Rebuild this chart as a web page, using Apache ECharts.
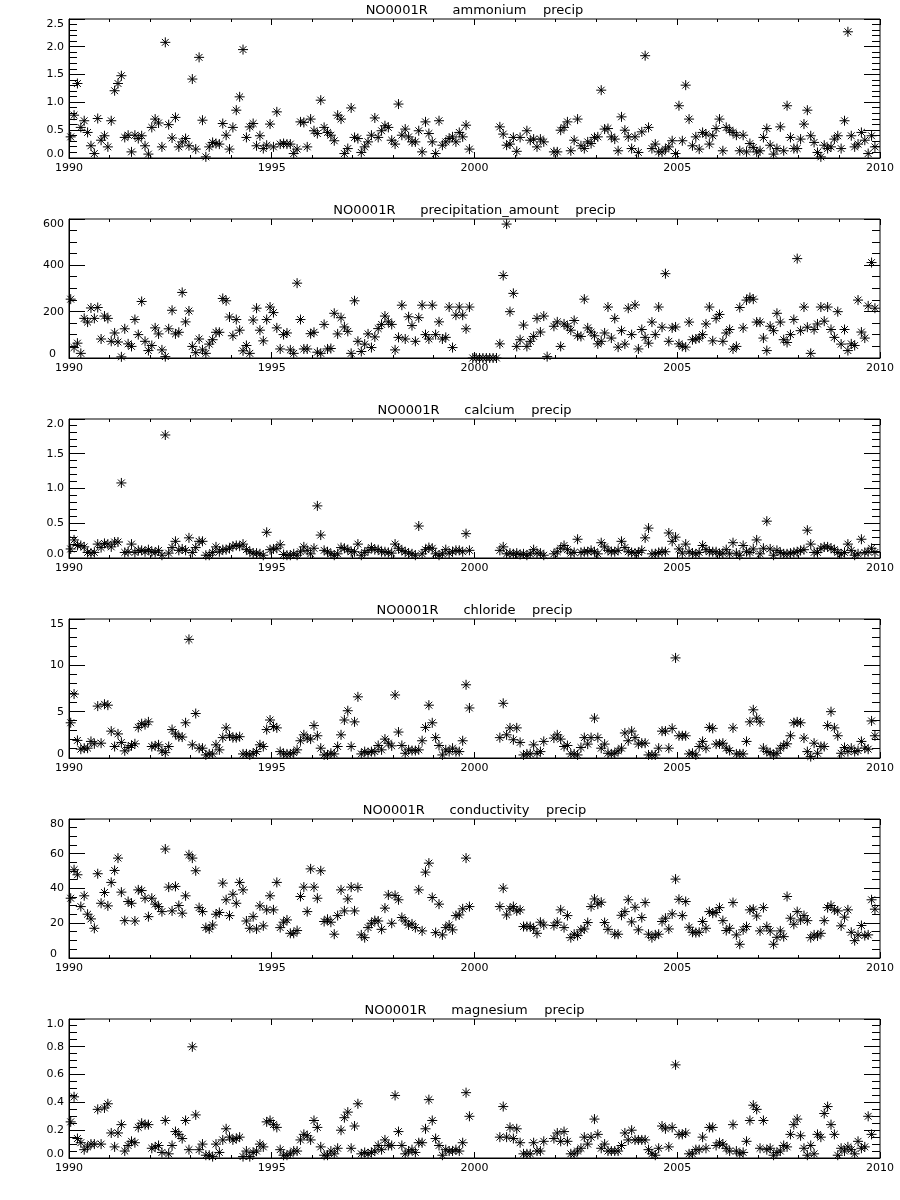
<!DOCTYPE html>
<html><head><meta charset="utf-8">
<script src="https://cdn.jsdelivr.net/npm/echarts@6/dist/echarts.min.js"></script>
<style>html,body{margin:0;padding:0;background:#fff}#c{width:900px;height:1200px}</style>
</head><body><div id="c"></div>
<script>
// ---------------- data ----------------
const station = 'NO0001R';
const variables = ['ammonium', 'precipitation_amount', 'calcium', 'chloride', 'conductivity', 'magnesium'];
const xTickYears = [1990, 1995, 2000, 2005, 2010];
// monthly samples Jan 1990 .. Dec 2009 (array index = months since Jan 1990)
const sampleMonths = Array.from({length: 240}, (_, j) => 1990 + (j + 0.5) / 12);

const ammonium = [0.38,0.77,1.34,0.55,0.67,0.46,0.22,0.08,0.71,0.32,0.40,0.20,0.67,1.21,1.34,1.48,0.37,0.41,0.11,0.41,0.35,0.40,0.22,0.07,0.55,0.70,0.63,0.20,2.08,0.60,0.36,0.73,0.20,0.29,0.35,0.22,1.42,0.16,1.81,0.68,0.02,0.20,0.28,0.26,0.25,0.62,0.41,0.16,0.55,0.86,1.10,1.95,0.37,0.56,0.62,0.22,0.40,0.17,0.23,0.61,0.20,0.83,0.25,0.26,0.25,0.25,0.08,0.16,0.65,0.64,0.20,0.70,0.49,0.44,1.04,0.55,0.46,0.41,0.31,0.77,0.70,0.08,0.17,0.90,0.37,0.35,0.10,0.20,0.29,0.41,0.72,0.37,0.49,0.58,0.55,0.32,0.25,0.97,0.41,0.52,0.38,0.29,0.29,0.49,0.11,0.65,0.44,0.29,0.08,0.67,0.23,0.29,0.35,0.38,0.29,0.46,0.38,0.59,0.16,null,null,null,null,null,null,null,null,0.56,0.43,0.23,0.25,0.37,0.12,0.37,null,0.49,0.32,0.34,0.20,0.34,0.29,null,null,0.11,0.11,0.50,0.55,0.65,0.13,0.32,0.70,0.22,0.17,0.29,0.26,0.37,0.38,1.22,0.52,0.53,0.38,0.34,0.13,0.74,0.50,0.38,0.17,0.38,0.10,0.47,1.84,0.55,0.17,0.25,0.11,0.11,0.16,0.20,0.31,0.08,0.94,0.31,1.31,0.70,0.22,0.38,0.16,0.46,0.43,0.25,0.40,0.53,0.70,0.13,0.55,0.50,0.46,0.41,0.13,0.41,0.11,0.26,0.19,0.11,0.13,0.37,0.53,0.23,0.07,0.17,0.56,0.13,0.94,0.37,0.17,0.17,0.34,0.61,0.86,0.40,0.28,0.10,0.02,0.23,0.17,0.20,0.34,0.40,0.17,0.67,2.27,0.40,0.20,0.25,0.46,0.32,0.08,0.40,0.20,null];
const precipitation = [254,45,64,20,171,155,216,171,218,82,181,171,72,108,69,5,126,61,50,166,101,244,72,32,54,130,104,35,6,126,206,104,111,283,156,203,50,23,82,35,20,60,79,111,111,257,247,177,96,166,120,31,54,20,164,215,120,74,166,220,196,130,39,101,108,35,20,323,166,39,39,105,111,25,20,145,39,41,193,104,174,134,115,20,247,72,28,60,104,45,91,127,145,181,156,145,35,89,228,82,178,140,72,174,228,101,82,228,101,156,82,89,220,45,185,220,185,126,220,0,0,0,0,0,0,0,0,61,356,578,200,279,50,79,142,50,72,93,171,112,181,6,null,137,156,50,147,137,120,162,96,93,254,130,112,96,61,72,108,220,86,171,47,118,60,215,101,229,39,123,89,64,155,101,220,133,364,72,130,134,61,50,47,155,79,82,86,101,147,220,74,171,188,72,108,123,39,50,218,130,250,261,254,155,155,86,32,137,118,193,155,79,67,101,166,429,118,220,133,20,123,147,220,159,220,123,89,200,60,123,32,61,54,250,112,86,225,412,215,null];
const calcium = [0.13,0.26,0.18,0.18,0.16,0.08,0.07,0.08,0.20,0.15,0.21,0.20,0.16,0.23,0.23,1.08,0.08,0.09,0.20,0.08,0.11,0.11,0.09,0.12,0.09,0.08,0.11,0.04,1.77,0.07,0.15,0.24,0.11,0.13,0.11,0.29,0.08,0.15,0.24,0.24,0.04,0.04,0.08,0.16,0.09,0.12,0.12,0.14,0.17,0.18,0.17,0.20,0.12,0.09,0.07,0.07,0.06,0.04,0.37,0.12,0.13,0.14,0.19,0.05,0.04,0.04,0.06,0.04,0.09,0.16,0.11,0.06,0.14,0.75,0.33,0.11,0.09,0.06,0.04,0.06,0.15,0.14,0.12,0.09,0.09,0.20,0.04,0.08,0.11,0.15,0.12,0.12,0.09,0.09,0.08,0.07,0.20,0.14,0.11,0.09,0.07,0.06,0.04,0.46,0.06,0.12,0.15,0.14,0.06,0.04,0.06,0.12,0.07,0.09,0.11,0.11,0.09,0.35,0.11,null,null,null,null,null,null,null,null,0.11,0.16,0.06,0.07,0.06,0.07,0.05,0.06,0.04,0.06,0.12,0.07,0.07,0.04,null,null,0.06,0.09,0.14,0.18,0.12,0.07,0.08,0.27,0.08,0.09,0.09,0.11,0.09,0.06,0.22,0.16,0.11,0.09,0.09,0.11,0.24,0.15,0.09,0.08,0.07,0.08,0.11,0.29,0.43,0.06,0.06,0.08,0.09,0.09,0.36,0.24,0.30,0.13,0.07,0.20,0.09,0.07,0.06,0.08,0.18,0.12,0.09,0.09,0.09,0.06,0.07,0.12,0.06,0.22,0.07,0.04,0.18,0.09,0.08,0.13,0.26,0.06,0.14,0.53,0.13,0.04,0.11,0.08,0.06,0.06,0.07,0.08,0.09,0.11,0.12,0.40,0.20,0.08,0.08,0.14,0.16,0.16,0.14,0.12,0.08,0.06,0.08,0.20,0.11,0.04,0.06,0.27,0.08,0.09,0.14,0.08,null];
const chloride = [3.8,6.9,1.9,0.95,1.06,1.06,1.79,1.53,5.6,1.6,5.8,5.7,2.9,1.24,2.6,1.68,0.77,1.13,1.35,1.53,3.3,3.7,3.6,3.9,1.24,1.31,1.42,0.77,0.58,1.24,3.07,2.6,2.3,2.26,3.8,12.8,1.42,4.8,1.06,1.06,0.33,0.44,0.44,1.42,0.88,2.2,3.25,2.4,2.2,2.2,2.3,0.44,0.44,0.33,0.51,0.69,1.42,1.24,3.07,4.1,3.4,3.25,0.69,0.44,0.44,0.44,0.58,0.88,1.86,2.5,2.15,2.04,3.5,2.4,1.06,0.33,0.33,0.51,0.44,1.24,2.5,4.1,5.1,1.24,3.9,6.6,0.44,0.69,0.58,0.69,0.69,1.35,0.88,2.04,1.6,1.31,6.8,2.8,1.35,0.51,0.88,0.8,0.8,0.88,1.86,3.3,5.7,3.8,2.2,1.35,0.33,0.88,0.69,1.06,0.69,0.69,1.86,7.9,5.4,null,null,null,null,null,null,null,null,2.2,5.9,2.5,3.25,1.97,3.25,1.68,0.33,0.44,0.44,1.42,0.51,0.69,1.79,null,null,2.15,2.5,2.04,1.24,1.35,0.44,0.44,0.33,1.13,2.2,1.5,2.2,4.3,2.2,1.06,1.5,0.51,0.44,0.51,0.77,1.06,2.7,1.86,2.9,2.2,1.5,1.6,1.6,0.33,0.33,0.33,1.06,2.9,2.9,1.06,3.2,10.8,2.4,2.4,2.4,0.44,0.51,0.33,1.24,1.79,1.06,3.3,3.2,1.5,1.53,1.6,1.06,0.8,3.25,0.44,0.44,0.44,1.79,3.9,5.2,4.3,3.9,1.06,0.69,0.58,0.33,0.51,1.06,1.35,1.53,2.4,3.8,3.9,3.8,2.15,0.69,0.15,1.6,0.51,1.24,1.24,3.5,5.0,3.25,2.4,0.51,1.13,0.69,1.06,0.69,0.8,1.79,1.06,0.95,4.0,2.4,null];
const conductivity = [34.4,50.8,47.9,29.6,35.8,25.2,22.5,17.1,48.5,31.5,37.7,30.0,43.5,50.4,57.5,37.9,21.5,32.5,31.5,21.3,39.2,38.8,34.4,23.8,34.4,31.0,29.6,26.7,62.7,40.8,27.1,41.2,30.2,25.8,35.8,59.4,57.5,50.2,29.0,26.7,17.5,16.7,19.0,25.2,26.2,43.1,33.5,24.4,36.7,31.5,43.5,39.2,21.3,17.1,23.8,16.7,30.0,18.5,27.7,35.8,27.7,43.5,17.5,20.6,21.9,14.2,14.2,15.8,35.4,40.8,26.7,51.3,40.8,34.4,50.2,21.0,22.3,20.6,13.7,24.4,39.2,27.1,34.0,40.8,27.1,40.6,13.3,11.7,17.5,20.0,21.5,21.3,16.5,28.7,36.3,20.0,36.0,33.5,23.3,21.3,19.0,19.6,17.5,39.2,15.6,49.4,54.6,34.8,14.6,31.0,13.3,17.5,19.0,16.2,24.4,24.8,28.3,57.5,29.6,null,null,null,null,null,null,null,null,29.6,40.2,24.8,28.3,29.6,27.1,27.7,18.1,18.1,18.1,17.1,14.2,20.6,19.0,null,null,18.7,20.6,27.7,17.5,24.4,11.7,13.7,12.9,16.2,16.7,20.4,29.6,34.0,31.0,32.1,20.4,16.5,null,13.7,13.7,24.6,26.7,33.5,20.8,29.2,16.2,23.3,31.9,13.7,11.7,13.3,13.7,21.0,22.9,16.7,25.4,45.4,33.8,24.4,32.5,17.7,14.8,14.6,14.8,21.0,17.1,26.7,25.8,26.2,29.0,21.5,15.8,17.1,31.9,13.3,7.9,16.2,18.1,27.7,28.1,24.2,15.6,29.0,18.1,15.6,7.9,11.9,15.6,12.3,35.4,22.9,19.4,26.7,21.9,24.4,21.5,11.7,13.3,12.7,14.2,21.5,29.0,30.2,27.7,27.1,18.5,23.5,27.7,14.8,10.0,13.3,18.7,12.9,13.3,33.5,28.1,null];
const magnesium = [0.26,0.44,0.14,0.11,0.06,0.08,0.10,0.10,0.35,0.10,0.36,0.39,0.18,0.08,0.18,0.24,0.05,0.09,0.12,0.11,0.22,0.25,0.24,0.24,0.07,0.08,0.09,0.04,0.27,0.03,0.09,0.19,0.17,0.14,0.27,0.06,0.80,0.31,0.06,0.10,0.02,0.02,0.01,0.10,0.04,0.13,0.21,0.15,0.13,0.14,0.15,0.01,0.05,0.01,0.04,0.05,0.10,0.08,0.26,0.27,0.24,0.22,0.06,0.02,0.02,0.03,0.05,0.05,0.13,0.17,0.16,0.13,0.27,0.22,0.08,0.02,0.02,0.05,0.03,0.07,0.20,0.29,0.33,0.07,0.23,0.39,0.03,0.04,0.03,0.04,0.05,0.09,0.06,0.13,0.09,0.09,0.45,0.19,0.09,0.03,0.05,0.06,0.04,0.11,0.11,0.21,0.42,0.27,0.14,0.09,0.02,0.06,0.05,0.05,0.06,0.05,0.11,0.47,0.30,null,null,null,null,null,null,null,null,0.15,0.37,0.15,0.22,0.14,0.21,0.11,0.03,0.03,0.03,0.11,0.05,0.05,0.12,null,null,0.14,0.18,0.12,0.19,0.12,0.03,0.03,0.05,0.07,0.15,0.10,0.15,0.28,0.17,0.07,0.10,0.05,0.05,0.05,0.05,0.09,0.18,0.13,0.20,0.13,0.13,0.13,0.13,0.06,0.03,0.02,0.07,0.23,0.21,0.08,0.22,0.67,0.17,0.17,0.18,0.03,0.03,0.06,0.06,0.15,0.07,0.22,0.22,0.09,0.11,0.10,0.07,0.05,0.24,0.05,0.03,0.04,0.12,0.27,0.38,0.35,0.07,0.27,0.06,0.07,0.02,0.04,0.05,0.09,0.08,0.17,0.24,0.28,0.16,0.07,0.02,0.09,0.03,0.17,0.15,0.32,0.37,0.24,0.17,0.02,0.07,0.05,0.08,0.06,0.03,0.12,0.07,0.08,0.30,0.17,null,null];

const panelValues = [ammonium, precipitation, calcium, chloride, conductivity, magnesium];
const yMaxima = [2.5, 600, 2.0, 15, 80, 1.0];
const yIntervals = [0.5, 200, 0.5, 5, 20, 0.2];
const yMinorSplits = [5, 4, 5, 5, 4, 4];
const yDecimals = [1, 0, 1, 0, 0, 1];
const xMinorSplit = 5;

// ---------------- layout / style ----------------
const FONT = 'DejaVu Sans';
const GRID_LEFT = 69, GRID_W = 811, GRID_TOP0 = 19, GRID_H = 139, GRID_STEP = 200;
const Y_MAJOR_LEN = 16, Y_MINOR_LEN = 8, X_MAJOR_LEN = 6, X_MINOR_LEN = 3;
const zeroLabelShift = [0, 8, 0, 0, 7, 0];
const STAR = 'path://M0,5L10,5M5,0L5,10M1.6,1.6L8.4,8.4M8.4,1.6L1.6,8.4';
const ls = () => ({color: '#000', width: 1});

const chart = echarts.init(document.getElementById('c'), null, {renderer: 'canvas'});
const grids = [], xAxes = [], yAxes = [], series = [], titles = [];

// Inward frame ticks on all four sides, positioned through the grid's own axes (api.coord)
function frameTickSeries(i, xMin, xMax, yMax) {
  const data = [];
  // y ticks: [xMin, value, length, 0]
  const yStep = yIntervals[i] / yMinorSplits[i];
  const nY = Math.round(yMax / yStep);
  for (let k = 0; k <= nY; k++) data.push([xMin, k * yStep, k % yMinorSplits[i] === 0 ? Y_MAJOR_LEN : Y_MINOR_LEN, 0]);
  // x ticks: [value, 0, length, 1]
  const xStep = (xTickYears[1] - xTickYears[0]) / xMinorSplit;
  const nX = Math.round((xMax - xMin) / xStep);
  for (let k = 0; k <= nX; k++) data.push([xMin + k * xStep, 0, k % xMinorSplit === 0 ? X_MAJOR_LEN : X_MINOR_LEN, 1]);
  return {
    type: 'custom', xAxisIndex: i, yAxisIndex: i, data: data, silent: true, clip: false, z: 3,
    renderItem: (params, api) => {
      const v0 = api.value(0), v1 = api.value(1), len = api.value(2), kind = api.value(3);
      const segs = [];
      if (kind === 0) {
        const pl = api.coord([xMin, v1]), pr = api.coord([xMax, v1]);
        const y = Math.round(pl[1] - 0.5) + 0.5;
        segs.push({x1: pl[0], y1: y, x2: pl[0] + len, y2: y});
        segs.push({x1: pr[0], y1: y, x2: pr[0] - len, y2: y});
      } else {
        const pb = api.coord([v0, 0]), pt = api.coord([v0, yMax]);
        const x = Math.round(pb[0] - 0.5) + 0.5;
        segs.push({x1: x, y1: pb[1], x2: x, y2: pb[1] - len});
        segs.push({x1: x, y1: pt[1], x2: x, y2: pt[1] + len});
      }
      return {type: 'group', children: segs.map(s => ({type: 'line', shape: s, style: {stroke: '#000', lineWidth: 1}}))};
    }
  };
}

variables.forEach((name, i) => {
  const top = GRID_TOP0 + i * GRID_STEP;
  const xMin = xTickYears[0], xMax = xTickYears[xTickYears.length - 1];
  grids.push({left: GRID_LEFT, top: top, width: GRID_W, height: GRID_H,
    show: true, borderColor: '#000', borderWidth: 1, backgroundColor: 'transparent'});
  titles.push({
    text: station + '      ' + name + '    precip',
    left: GRID_LEFT + GRID_W / 2, top: top - 15, textAlign: 'center', padding: 0,
    textStyle: {fontFamily: FONT, fontSize: 13, fontWeight: 'normal', color: '#000'}
  });
  xAxes.push({
    gridIndex: i, type: 'value', min: xMin, max: xMax, interval: 5, position: 'bottom',
    axisLine: {show: true, onZero: false, lineStyle: ls()}, axisTick: {show: false}, splitLine: {show: false},
    axisLabel: {show: true, color: '#000', fontFamily: FONT, fontSize: 11, margin: 5, formatter: v => String(v)}
  });
  const yMax = yMaxima[i], dec = yDecimals[i];
  yAxes.push({
    gridIndex: i, type: 'value', min: 0, max: yMax, interval: yIntervals[i], position: 'left',
    axisLine: {show: true, onZero: false, lineStyle: ls()}, axisTick: {show: false}, splitLine: {show: false},
    axisLabel: {show: true, color: '#000', fontFamily: FONT, fontSize: 11, margin: 5,
      formatter: v => {
        const s = v.toFixed(dec);
        if (Math.abs(v) < 1e-9) return '{lo|' + s + '}';
        if (Math.abs(v - yMax) < 1e-9) return '{hi|' + s + '}';
        return s;
      },
      rich: {
        lo: {fontFamily: FONT, fontSize: 11, color: '#000', padding: [0, zeroLabelShift[i], 7, 0]},
        hi: {fontFamily: FONT, fontSize: 11, color: '#000', padding: [11, 0, 0, 0]}
      }
    }
  });
  const vals = panelValues[i];
  const data = [];
  sampleMonths.forEach((m, j) => { if (vals[j] !== null && vals[j] !== undefined) data.push([m, vals[j]]); });
  series.push({
    type: 'scatter', xAxisIndex: i, yAxisIndex: i, data: data,
    symbol: STAR, symbolSize: 10,
    itemStyle: {color: 'none', borderColor: '#000', borderWidth: 1, opacity: 1},
    emphasis: {disabled: true}, clip: true
  });
  series.push(frameTickSeries(i, xMin, xMax, yMax));
});

chart.setOption({
  animation: false, backgroundColor: '#fff',
  title: titles, grid: grids, xAxis: xAxes, yAxis: yAxes, series: series
});
</script>
</body></html>
